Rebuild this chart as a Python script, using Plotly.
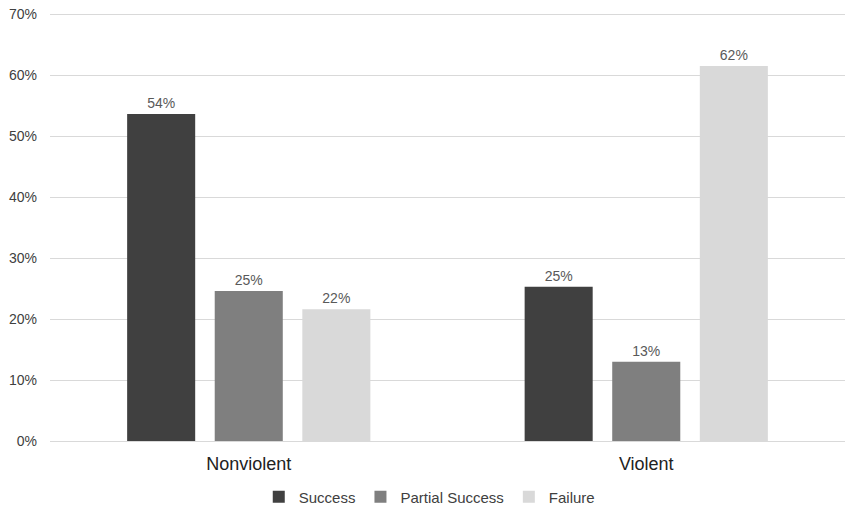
import plotly.graph_objects as go

categories = ["Nonviolent", "Violent"]
series_names = ["Success", "Partial Success", "Failure"]
success = [0.536, 0.253]
partial_success = [0.246, 0.130]
failure = [0.216, 0.615]
colors = ["#404040", "#7f7f7f", "#d9d9d9"]
y_ticks = [0, 0.1, 0.2, 0.3, 0.4, 0.5, 0.6, 0.7]

fig = go.Figure()
for name, vals, col in zip(series_names, [success, partial_success, failure], colors):
    fig.add_trace(go.Bar(
        x=categories, y=vals, name=name,
        marker=dict(color=col, line=dict(width=0)),
        texttemplate="%{y:.0%}", textposition="outside",
        textfont=dict(size=14, color="#595959"),
        cliponaxis=False,
    ))

fig.update_layout(
    width=845, height=514,
    margin=dict(l=50, r=0, t=8, b=73),
    paper_bgcolor="white", plot_bgcolor="white",
    font=dict(family="Liberation Sans, Arial, sans-serif"),
    barmode="group", bargap=0.339, bargroupgap=0.223,
    showlegend=True,
    legend=dict(orientation="h", x=0.508, xanchor="center", xref="container",
                y=0.033, yanchor="middle", yref="container",
                font=dict(size=15, color="#404040"),
                itemwidth=30, tracegroupgap=0),
    xaxis=dict(showline=True, linecolor="#d9d9d9", linewidth=1,
               tickfont=dict(size=18, color="#222222"), ticks="",
               ticklabelstandoff=6),
    yaxis=dict(range=[0, 0.71], tickvals=y_ticks, tickformat=".0%",
               showgrid=True, gridcolor="#d9d9d9", gridwidth=1,
               zeroline=False, showline=False,
               tickfont=dict(size=14, color="#404040"), ticks="",
               ticklabelstandoff=12),
)

fig.write_html("out.html")
